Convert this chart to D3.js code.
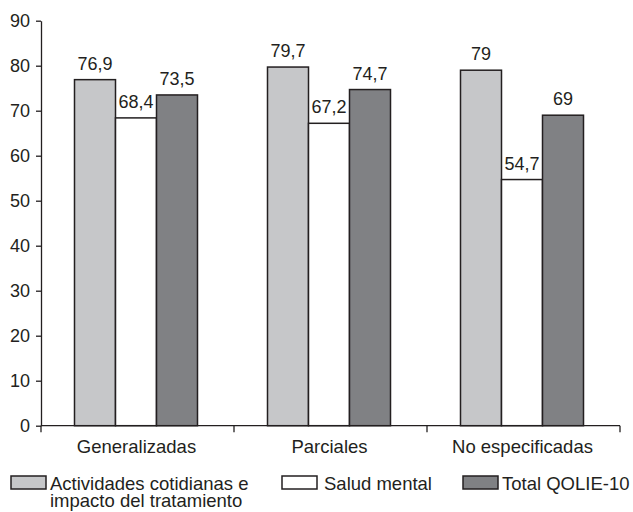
<!DOCTYPE html>
<html>
<head>
<meta charset="utf-8">
<script src="https://cdn.jsdelivr.net/npm/d3@7"></script>
<style>
  html, body { margin: 0; padding: 0; background: #fff; }
  svg text { font-family: "Liberation Sans", Arial, sans-serif; fill: #231f20; }
</style>
</head>
<body>
<svg id="chart" width="633" height="512"></svg>
<script>
// Categories (epilepsy type) and QOLIE-10 subscale values
const categories = ["Generalizadas", "Parciales", "No especificadas"];
const seriesNames = ["Actividades cotidianas e impacto del tratamiento", "Salud mental", "Total QOLIE-10"];
const actividades = [76.9, 79.7, 79];
const saludMental = [68.4, 67.2, 54.7];
const totalQolie = [73.5, 74.7, 69];
const yTicks = [0, 10, 20, 30, 40, 50, 60, 70, 80, 90];
const legendLines = [["Actividades cotidianas e", "impacto del tratamiento"], ["Salud mental"], ["Total QOLIE-10"]];

const fills = ["#c6c7c9", "#ffffff", "#808184"];
const ink = "#231f20";

const svg = d3.select("#chart");
const plotLeft = 41, plotRight = 620, plotTop = 20.7, plotBottom = 425.7;

const x = d3.scaleBand().domain(categories).range([plotLeft, plotRight]).padding(0);
const y = d3.scaleLinear().domain([0, 90]).range([plotBottom, plotTop]);

const barW = 41;
const series = [actividades, saludMental, totalQolie];
const fmt = v => String(v).replace(".", ",");

// Bars and value labels
const rows = [];
categories.forEach((c, ci) => {
  series.forEach((s, si) => rows.push({ cat: c, si, value: s[ci] }));
});
const groupOffset = -barW * 1.5 - 1.5;
const bx = d => x(d.cat) + x.bandwidth() / 2 + groupOffset + d.si * barW;

svg.append("g").selectAll("rect").data(rows).join("rect")
  .attr("x", bx)
  .attr("y", d => y(d.value))
  .attr("width", barW)
  .attr("height", d => y(0) - y(d.value))
  .attr("fill", d => fills[d.si])
  .attr("stroke", ink)
  .attr("stroke-width", 1.5);

svg.append("g").selectAll("text").data(rows).join("text")
  .attr("x", d => bx(d) + barW / 2)
  .attr("y", d => y(d.value) - 10)
  .attr("text-anchor", "middle")
  .attr("font-size", 18)
  .text(d => fmt(d.value));

// Y axis
const yAxis = svg.append("g")
  .attr("transform", `translate(${plotLeft},0)`)
  .call(d3.axisLeft(y).tickValues(yTicks).tickSize(5).tickSizeOuter(0).tickPadding(6));
yAxis.select(".domain").attr("stroke", ink).attr("stroke-width", 1.3);
yAxis.selectAll(".tick line").attr("stroke", ink).attr("stroke-width", 1.3);
yAxis.selectAll(".tick text").attr("font-size", 18).attr("font-family", "Liberation Sans, Arial, sans-serif").attr("fill", ink);

// X axis: baseline, boundary ticks, and category labels
const xAxis = svg.append("g").attr("transform", `translate(0,${plotBottom})`);
xAxis.append("line").attr("x1", plotLeft).attr("x2", plotRight).attr("stroke", ink).attr("stroke-width", 1.3);
const bounds = [x.range()[0]].concat(categories.map(c => x(c) + x.bandwidth()));
xAxis.selectAll("line.b").data(bounds).join("line").attr("class", "b")
  .attr("x1", d => d).attr("x2", d => d).attr("y1", 0).attr("y2", 6.5)
  .attr("stroke", ink).attr("stroke-width", 1.3);
xAxis.selectAll("text").data(categories).join("text")
  .attr("x", d => x(d) + x.bandwidth() / 2 - 1)
  .attr("y", 27)
  .attr("text-anchor", "middle")
  .attr("font-size", 18.5)
  .text(d => d);

// Legend
const legendBoxX = [11, 282, 463];
const legendTextX = [50, 324, 502];
const legend = svg.append("g");
seriesNames.forEach((name, i) => {
  legend.append("rect").attr("x", legendBoxX[i]).attr("y", 476).attr("width", 35).attr("height", 13)
    .attr("fill", fills[i]).attr("stroke", ink).attr("stroke-width", 1.5);
  legendLines[i].forEach((ln, li) => {
    legend.append("text")
      .attr("x", legendTextX[i])
      .attr("y", 490 + li * 17)
      .attr("font-size", 18.5)
      .text(ln);
  });
});
</script>
</body>
</html>
